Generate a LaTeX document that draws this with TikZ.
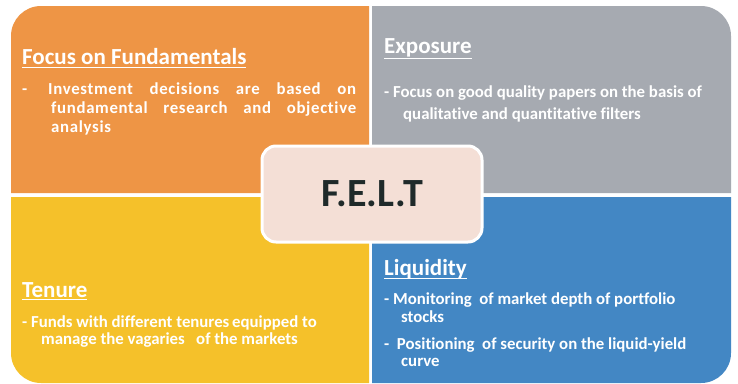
\documentclass[tikz,border=0pt]{standalone}
\usepackage{fontspec}
\setmainfont[Ligatures=NoCommon]{Carlito}
\definecolor{qorange}{HTML}{EE9545}
\definecolor{qgray}{HTML}{A6AAB1}
\definecolor{qyellow}{HTML}{F5C12A}
\definecolor{qblue}{HTML}{4387C4}
\definecolor{qcenter}{HTML}{F4DFD6}
\definecolor{qtext}{HTML}{1F2A2A}
\newcommand\ulbox[2]{\setbox0\hbox{#2}\rlap{\rule[-#1]{\wd0}{1.3pt}}\box0}
\tikzset{
  title/.style={anchor=base west, inner sep=0pt, text=white, font=\fontsize{23}{27}\selectfont\bfseries},
  body/.style={anchor=base west, inner sep=0pt, text=white, font=\fontsize{16.8}{19}\selectfont\bfseries},
  center/.style={draw=white, line width=3pt, fill=qcenter, rounded corners=14pt, minimum width=220pt, minimum height=96pt, text=qtext, font=\fontsize{40}{44}\selectfont\bfseries}
}
\begin{document}
\begin{tikzpicture}[x=1pt,y=-1pt]
\useasboundingbox (0,0) rectangle (738,383);
\fill[white] (0,0) rectangle (738,383);
% quadrants
\fill[qorange] (11,193) -- (11,36) arc[start angle=180,end angle=270,radius=30] -- (369,6) -- (369,193) -- cycle;
\fill[qgray] (372,193) -- (372,6) -- (701,6) arc[start angle=270,end angle=360,radius=30] -- (731,193) -- cycle;
\fill[qyellow] (11,197) -- (369,197) -- (369,383) -- (41,383) arc[start angle=90,end angle=180,radius=30] -- cycle;
\fill[qblue] (372,197) -- (731,197) -- (731,353) arc[start angle=0,end angle=90,radius=30] -- (372,383) -- cycle;
% centre
\node[center] (felt) at (372,194) {F.E.L.T};
% Focus on Fundamentals
\node[title] (t1) at (22,64) {\ulbox{4pt}{Focus on Fundamentals}};
\node[body] (b1d) at (22,94) {-};
\node[body] (b1a) at (48,94) {\addfontfeature{LetterSpace=4}\hbox to 308pt{Investment\hfill decisions\hfill are\hfill based\hfill on}};
\node[body] (b1b) at (51,113) {\addfontfeature{LetterSpace=4}\hbox to 305pt{fundamental\hfill research\hfill and\hfill objective}};
\node[body] (b1c) at (51,132) {\addfontfeature{LetterSpace=4}analysis};
% Exposure
\node[title] (t2) at (384,53) {\ulbox{6pt}{Exposure}};
\node[body] (b2a) at (384,97) {- Focus on good quality papers on the basis of};
\node[body] (b2b) at (403,119) {qualitative and quantitative filters};
% Tenure
\node[title] (t3) at (22,297) {\ulbox{3pt}{Tenure}};
\node[body] (b3a) at (22,327) {- Funds with different tenures\,equipped to};
\node[body] (b3b) at (41,344) {manage the vagaries\ \ \ of the markets};
% Liquidity
\node[title] (t4) at (384,275) {\ulbox{4pt}{Liquidity}};
\node[body] (b4a) at (384,304) {- Monitoring\ \ of market depth of portfolio};
\node[body] (b4b) at (401,322) {stocks};
\node[body] (b4c) at (384,349) {-\ \ Positioning\ \ of security on the liquid-yield};
\node[body] (b4d) at (401,366) {curve};
\end{tikzpicture}
\end{document}
